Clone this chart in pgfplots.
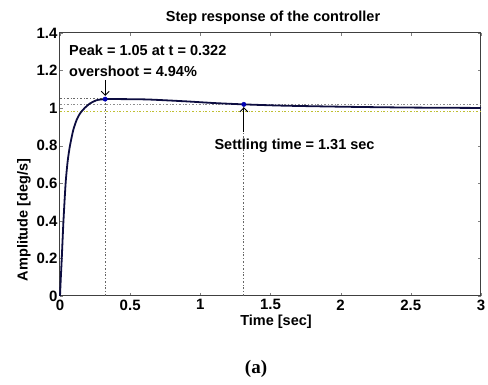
\documentclass[border=0pt]{standalone}
\usepackage{pgfplots}
\pgfplotsset{compat=1.18}
\usetikzlibrary{arrows.meta}
\usepackage{fontspec}
\setmainfont{Liberation Sans}
\newfontfamily\capfont{Liberation Serif}
\definecolor{curve}{rgb}{0.05,0.05,0.25}
\definecolor{band}{rgb}{0.75,0.75,0.2}
\begin{document}
\begin{tikzpicture}[x=1pt,y=1pt]
\useasboundingbox (0,0) rectangle (488,385);
\begin{axis}[
  at={(60pt,89pt)}, anchor=south west,
  scale only axis, width=421pt, height=263pt,
  xmin=0, xmax=3, ymin=0, ymax=1.4,
  xtick={0,0.5,...,3}, ytick={0,0.2,...,1.4},
  yticklabels={0,0.2,0.4,0.6,0.8,1,1.2,1.4},
  xticklabels={0,0.5,1,1.5,2,2.5,3},
  tick align=inside, tick pos=both,
  major tick length=3pt,
  /pgf/number format/assume math mode=true,
  tick label style={font=\bfseries\fontsize{15}{15}\selectfont},
  yticklabel style={xshift=1pt},
  axis line style={line width=1pt, black!75},
  clip=false,
]
% settling band / reference lines
\addplot[black!60, dash pattern=on 2pt off 2pt on 0.6pt off 2pt, line width=0.8pt] coordinates {(0,1.05) (0.322,1.05)};
\addplot[black!60, dash pattern=on 2pt off 2pt on 0.6pt off 2pt, line width=0.8pt] coordinates {(0.322,0) (0.322,1.05)};
\addplot[black!60, dash pattern=on 2pt off 2pt on 0.6pt off 2pt, line width=0.8pt] coordinates {(1.31,0) (1.31,1.02)};
\addplot[black!45, dash pattern=on 2pt off 2pt on 0.6pt off 2pt, line width=0.6pt] coordinates {(0,1.02) (3,1.02)};
\addplot[band, dash pattern=on 2pt off 2pt on 0.6pt off 2pt, line width=0.8pt] coordinates {(0,0.98) (3,0.98)};
% response
\addplot[curve, line width=1.8pt, smooth, tension=0.4] coordinates {
(0,0) (0.006,0.1) (0.012,0.19) (0.024,0.39) (0.04,0.60) (0.055,0.72) (0.071,0.80)
(0.095,0.885) (0.12,0.94) (0.143,0.972) (0.175,1.0) (0.214,1.025) (0.26,1.042)
(0.322,1.048) (0.45,1.048) (0.63,1.046) (0.9,1.036) (1.1,1.027) (1.31,1.02)
(1.6,1.013) (2.06,1.007) (2.5,1.003) (3,1.001)};
\addplot[only marks, mark=*, mark size=2.2pt, blue!70!black] coordinates {(0.322,1.048) (1.31,1.02)};
% annotations
\draw[-{Straight Barb[length=4pt]}, line width=0.9pt] (axis cs:0.322,1.15) -- (axis cs:0.322,1.065);
\draw[-{Straight Barb[length=4pt]}, line width=0.9pt] (axis cs:1.31,0.875) -- (axis cs:1.31,1.005);
\node[anchor=west, font=\bfseries\fontsize{14.5}{14.5}\selectfont, inner sep=0] at (axis cs:0.064,1.31) {Peak = 1.05 at t = 0.322};
\node[anchor=west, font=\bfseries\fontsize{14.5}{14.5}\selectfont, inner sep=0] at (axis cs:0.064,1.195) {overshoot = 4.94\%};
\node[anchor=west, font=\bfseries\fontsize{14.5}{14.5}\selectfont, inner sep=0] at (axis cs:1.10,0.80) {Settling time = 1.31 sec};
\end{axis}
\node[font=\bfseries\fontsize{14.5}{14.5}\selectfont] at (273,367) {Step response of the controller};
\node[font=\bfseries\fontsize{14.5}{14.5}\selectfont, rotate=90] at (24,165) {Amplitude [deg/s]};
\node[font=\bfseries\fontsize{14.5}{14.5}\selectfont] at (276,63) {Time [sec]};
\node[font=\capfont\bfseries\fontsize{19}{19}\selectfont] at (256,16) {(a)};
\end{tikzpicture}
\end{document}
